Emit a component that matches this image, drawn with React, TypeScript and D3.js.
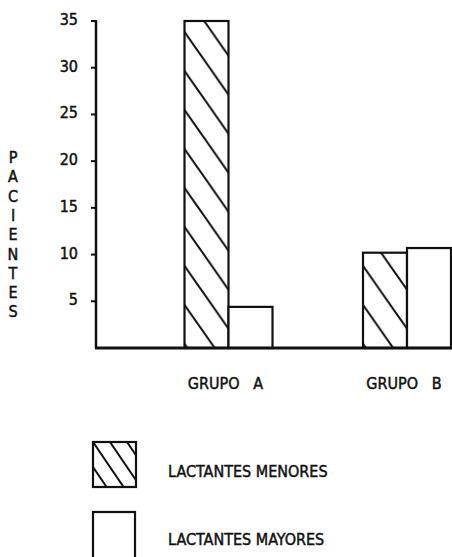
import React from 'react'
import * as d3 from 'd3'

const groups = ['GRUPO   A', 'GRUPO   B']
const series = ['LACTANTES MENORES', 'LACTANTES MAYORES']
const menores = [35, 10.2]
const mayores = [4.4, 10.7]
const yTicks = [5, 10, 15, 20, 25, 30, 35]
const yLabel = 'PACIENTES'

const font = "'DejaVu Sans Condensed', 'DejaVu Sans', sans-serif"

export default function App() {
  const width = 452
  const height = 557

  const y = d3.scaleLinear().domain([0, 35]).range([348, 21])
  const xGroup = d3.scalePoint<string>().domain(groups).range([228.5, 407])
  const xSeries = d3.scaleBand<string>().domain(series).range([-44, 44]).padding(0)

  const rows = groups.map((g, i) => ({ group: g, values: [menores[i], mayores[i]] }))

  // plotter-ish lettering: regular weight, slightly thickened
  const txt = {
    fontFamily: font, fontStretch: 'condensed' as const, fontSize: 16,
    fill: '#111', stroke: '#111', strokeWidth: 0.45,
  }

  return (
    <svg width={width} height={height} style={{ position: 'absolute', left: 0, top: 0, background: '#fff' }}>
      <defs>
        <pattern id="hatch" patternUnits="userSpaceOnUse" width={27.3} height={39} x={185} y={8}>
          <path d="M-13.65,-19.5 L40.95,58.5 M-13.65,19.5 L13.65,58.5 M13.65,-19.5 L40.95,19.5"
            stroke="#111" strokeWidth={2} fill="none" />
        </pattern>
        <pattern id="hatchLegend" patternUnits="userSpaceOnUse" width={17} height={25} x={93} y={442}>
          <path d="M-8.5,-12.5 L25.5,37.5 M-8.5,12.5 L8.5,37.5 M8.5,-12.5 L25.5,12.5"
            stroke="#111" strokeWidth={2} fill="none" />
        </pattern>
      </defs>

      {/* bars */}
      {rows.map(r => (
        <g key={r.group} transform={`translate(${xGroup(r.group)},0)`}>
          {r.values.map((v, j) => (
            <rect key={j}
              x={xSeries(series[j])!}
              y={y(v)}
              width={xSeries.bandwidth()}
              height={y(0) - y(v)}
              fill={j === 0 ? 'url(#hatch)' : '#fff'}
              stroke="#111" strokeWidth={2.2} />
          ))}
        </g>
      ))}

      {/* axes */}
      <line x1={96} x2={96} y1={y(35)} y2={y(0)} stroke="#111" strokeWidth={2.5} />
      <line x1={95} x2={452} y1={y(0)} y2={y(0)} stroke="#111" strokeWidth={3} />
      {yTicks.map(t => (
        <g key={t}>
          <line x1={91} x2={97} y1={y(t)} y2={y(t)} stroke="#111" strokeWidth={2} />
          <text x={78} y={y(t) + 4} textAnchor="end" {...txt}>{t}</text>
        </g>
      ))}

      {/* y label, stacked letters */}
      {yLabel.split('').map((c, i) => (
        <text key={i} x={13} y={163 + i * 19.3} textAnchor="middle" {...txt}>{c}</text>
      ))}

      {/* group labels */}
      {groups.map(g => (
        <text key={g} x={xGroup(g)! - 3} y={389} textAnchor="middle" {...txt} style={{ whiteSpace: 'pre' }}>{g}</text>
      ))}

      {/* legend */}
      <rect x={93} y={442} width={43} height={45} fill="url(#hatchLegend)" stroke="#111" strokeWidth={2.2} />
      <text x={168} y={477} {...txt}>{series[0]}</text>
      <rect x={93} y={512} width={42} height={50} fill="#fff" stroke="#111" strokeWidth={2.2} />
      <text x={168} y={545} {...txt}>{series[1]}</text>
    </svg>
  )
}
